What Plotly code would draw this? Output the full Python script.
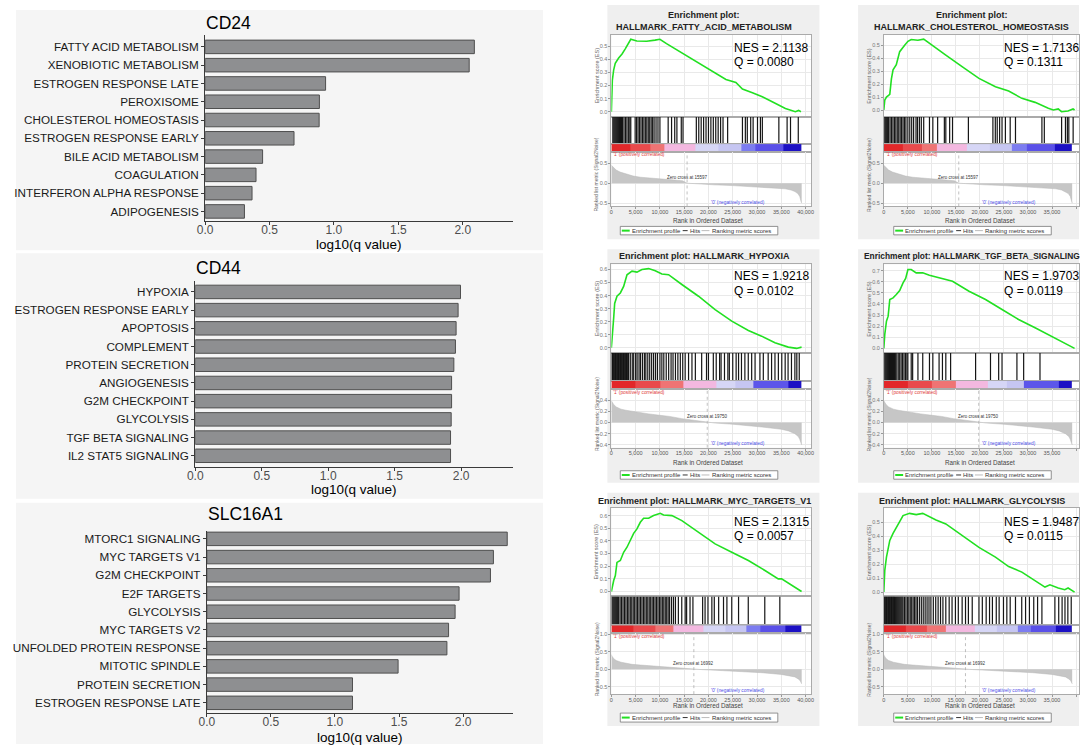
import plotly.graph_objects as go

W, H = 1081, 746
FONT = "Liberation Sans, Arial, sans-serif"

# ---------------- left bar charts: log10(q value) ----------------
cd24_terms = ["FATTY ACID METABOLISM", "XENOBIOTIC METABOLISM", "ESTROGEN RESPONSE LATE",
              "PEROXISOME", "CHOLESTEROL HOMEOSTASIS", "ESTROGEN RESPONSE EARLY",
              "BILE ACID METABOLISM", "COAGULATION", "INTERFERON ALPHA RESPONSE", "ADIPOGENESIS"]
cd24_vals = [2.09, 2.05, 0.935, 0.887, 0.885, 0.69, 0.446, 0.395, 0.364, 0.305]

cd44_terms = ["HYPOXIA", "ESTROGEN RESPONSE EARLY", "APOPTOSIS", "COMPLEMENT", "PROTEIN SECRETION",
              "ANGIOGENESIS", "G2M CHECKPOINT", "GLYCOLYSIS", "TGF BETA SIGNALING", "IL2 STAT5 SIGNALING"]
cd44_vals = [1.995, 1.977, 1.962, 1.957, 1.945, 1.928, 1.928, 1.925, 1.92, 1.92]

slc_terms = ["MTORC1 SIGNALING", "MYC TARGETS V1", "G2M CHECKPOINT", "E2F TARGETS", "GLYCOLYSIS",
             "MYC TARGETS V2", "UNFOLDED PROTEIN RESPONSE", "MITOTIC SPINDLE", "PROTEIN SECRETION",
             "ESTROGEN RESPONSE LATE"]
slc_vals = [2.345, 2.237, 2.214, 1.969, 1.938, 1.887, 1.874, 1.493, 1.137, 1.137]

bar_ticks = [0, 0.5, 1.0, 1.5, 2.0]
bar_tick_text = ["0.0", "0.5", "1.0", "1.5", "2.0"]

# ---------------- GSEA enrichment plots ----------------
rank_ticks = [0, 5000, 10000, 15000, 20000, 25000, 30000, 35000, 40000]
rank_tick_text = ["0", "5,000", "10,000", "15,000", "20,000", "25,000", "30,000", "35,000", "40,000"]

# A: FATTY_ACID_METABOLISM
es_rank_A = [0, 200, 480, 800, 1500, 2200, 2860, 3540, 4000, 5240, 7280, 8980, 10000, 11360, 14760,
             18160, 21560, 23600, 25650, 27000, 29050, 31090, 33130, 35850, 37900, 38570, 39050]
es_val_A = [0, 0.24, 0.32, 0.37, 0.41, 0.44, 0.48, 0.52, 0.553, 0.54, 0.538, 0.546, 0.553, 0.52, 0.444,
            0.368, 0.292, 0.246, 0.223, 0.173, 0.145, 0.114, 0.076, 0.025, 0.0, 0.01, 0.0]
hits_A = [300, 500, 700, 900, 1100, 1300, 1500, 1700, 1900, 2100, 2300, 2600, 2900, 3200, 3500, 3800,
          4000, 4900, 5200, 5500, 5800, 6100, 6400, 6700, 7000, 7300, 7600, 7900, 8200, 8500, 8800,
          9200, 9600, 10000, 11700, 12400, 13050, 13500, 14400, 14760, 17500, 18000, 18500, 19000,
          19500, 20000, 20500, 21000, 21500, 22000, 22500, 23000, 23950, 27000, 27600, 28000, 28700,
          29200, 30100, 30700, 31100, 34500, 36200, 36900, 38500]

# B: CHOLESTEROL_HOMEOSTASIS
es_rank_B = [0, 200, 550, 1240, 1580, 1920, 2600, 3300, 4330, 5020, 5700, 7080, 8300, 9480, 12900,
             16360, 19800, 23230, 25980, 28730, 31480, 34230, 35260, 36300, 36980, 38350, 39380, 39700]
es_val_B = [0, 0.077, 0.1, 0.12, 0.24, 0.31, 0.35, 0.45, 0.5, 0.53, 0.544, 0.538, 0.546, 0.513, 0.423,
            0.333, 0.244, 0.18, 0.146, 0.09, 0.059, 0.013, 0.0, 0.008, -0.013, -0.008, 0.008, 0.0]
hits_B = [200, 400, 600, 800, 1000, 1300, 1600, 1900, 2200, 2500, 2800, 3100, 3400, 3700, 4000, 4300,
          4600, 5000, 5400, 5800, 6200, 6700, 7000, 7400, 7800, 8300, 9500, 10200, 11200, 12600, 12900,
          13700, 14300, 17600, 22700, 23200, 23600, 24100, 24600, 25300, 26300, 27400, 32900, 33400,
          37000, 37800, 38200, 38500, 39400]

# C: HYPOXIA
es_rank_C = [0, 270, 480, 680, 1160, 1850, 2530, 3220, 4250, 5270, 6300, 7670, 9040, 10400, 11780,
             14520, 17950, 21370, 24800, 28220, 30960, 33700, 36440, 38150, 39180]
es_val_C = [0, 0.1, 0.23, 0.34, 0.395, 0.42, 0.47, 0.56, 0.587, 0.58, 0.6, 0.607, 0.59, 0.566, 0.56,
            0.485, 0.395, 0.293, 0.204, 0.133, 0.089, 0.038, 0.005, -0.005, 0.005]
hits_C = [100, 250, 400, 550, 700, 850, 1000, 1150, 1300, 1450, 1600, 1750, 1900, 2050, 2200, 2350,
          2500, 2650, 2800, 2950, 3100, 3250, 3400, 3550, 3900, 4300, 4600, 5000, 5300, 5700, 6000,
          6400, 6800, 7100, 7500, 7900, 8300, 8700, 9100, 9500, 10000, 10400, 10800, 11300, 11800,
          12300, 12700, 13200, 13700, 14200, 14700, 15200, 15900, 16600, 17300, 18600, 19600, 20000,
          21000, 21600, 22300, 22600, 23300, 24000, 24300, 25000, 25700, 26200, 26800, 27500, 28200,
          28900, 29600, 30600, 31300, 32300, 33000, 33700, 34400, 35100, 35800, 36400, 37100, 37800,
          38200, 38700]

# D: TGF_BETA_SIGNALING
es_rank_D = [0, 200, 550, 900, 1240, 1920, 2600, 3300, 4000, 4540, 5020, 5700, 6740, 8100, 9480,
             11550, 14300, 17730, 21170, 24600, 28040, 31480, 34900, 38350, 39700]
es_val_D = [0, 0.126, 0.245, 0.29, 0.44, 0.455, 0.485, 0.52, 0.59, 0.63, 0.71, 0.71, 0.68, 0.68, 0.658,
            0.634, 0.604, 0.515, 0.44, 0.35, 0.26, 0.185, 0.11, 0.036, 0.0]
hits_D = [200, 400, 600, 800, 1000, 1200, 1400, 1600, 1800, 2000, 2200, 2400, 2700, 3000, 3300, 3600,
          3900, 4200, 4500, 4800, 5000, 5700, 6000, 7100, 8100, 9500, 10200, 11500, 12200, 12900, 13900,
          19100, 22200, 23900, 24600, 27700, 29100, 32500]

# E: MYC_TARGETS_V1
es_rank_E = [0, 270, 480, 820, 1160, 1850, 2530, 3220, 3900, 4590, 5270, 5960, 6640, 7670, 8700, 10070,
             10750, 12470, 14520, 17950, 21370, 24800, 28220, 31640, 34380, 35070, 37120, 39180]
es_val_E = [0, 0.06, 0.087, 0.126, 0.23, 0.245, 0.31, 0.35, 0.4, 0.46, 0.495, 0.547, 0.579, 0.579, 0.6,
            0.618, 0.605, 0.6, 0.56, 0.468, 0.376, 0.31, 0.245, 0.166, 0.1, 0.1, 0.047, 0.0]
hits_E = [100, 300, 500, 700, 900, 1100, 1300, 1500, 1800, 2100, 2400, 2700, 3000, 3300, 3600, 3900,
          4200, 4500, 4800, 5100, 5400, 5700, 6000, 6300, 6600, 6900, 7200, 7500, 7800, 8100, 8400,
          8700, 9000, 9300, 9600, 9900, 10200, 10500, 10800, 11100, 11400, 11700, 12000, 12400, 12800,
          13200, 13800, 14500, 15200, 15500, 16200, 16800, 18800, 19300, 19900, 20700, 21200, 22100,
          23100, 23800, 24800, 26200, 28200, 31600, 34700]

# F: GLYCOLYSIS
es_rank_F = [0, 200, 550, 1240, 1920, 2600, 3300, 4000, 5360, 6740, 8100, 9480, 10860, 12900, 16360,
             19800, 23230, 25980, 28730, 31480, 33540, 34570, 36300, 37660, 38350, 39700]
es_val_F = [0, 0.155, 0.25, 0.37, 0.42, 0.464, 0.505, 0.548, 0.564, 0.555, 0.564, 0.54, 0.517, 0.488,
            0.405, 0.32, 0.25, 0.183, 0.143, 0.083, 0.036, 0.052, 0.029, 0.017, 0.029, 0.0]
hits_F = [100, 250, 400, 550, 700, 850, 1000, 1150, 1300, 1450, 1600, 1750, 1900, 2050, 2200, 2400,
          2600, 2800, 3000, 3200, 3400, 3600, 3800, 4000, 4300, 4600, 4900, 5200, 5500, 5800, 6100,
          6400, 6700, 7000, 7400, 7800, 8200, 8600, 9000, 9400, 9800, 10300, 10800, 11300, 11800,
          12300, 12900, 13600, 14200, 14900, 15500, 16300, 17000, 17600, 18400, 19800, 20500, 21300,
          22000, 22600, 23400, 24000, 24900, 25600, 26300, 27400, 28700, 29500, 30300, 31200, 32000,
          32900, 35600, 36400, 37100, 37700, 38300, 39000]

# ranked list metric (Signal2Noise), one list per row of plots
metric_rank_1 = [0, 100, 500, 1000, 1800, 3000, 4500, 6000, 8000, 10000, 11300, 13000, 14700, 15597,
                 17000, 18100, 21000, 25000, 28000, 31700, 34000, 35800, 37000, 37800, 38400, 38800,
                 39050, 39200]
metric_val_1 = [0.45, 0.44, 0.38, 0.33, 0.28, 0.23, 0.18, 0.15, 0.125, 0.11, 0.1, 0.08, 0.06, 0.0,
                -0.01, -0.02, -0.04, -0.06, -0.08, -0.1, -0.12, -0.14, -0.17, -0.21, -0.26, -0.33,
                -0.45, -0.5]
metric_rank_2 = [0, 100, 500, 1000, 2000, 3000, 4250, 6000, 7700, 10000, 12000, 14500, 17000, 19750,
                 21400, 25000, 28200, 31000, 35000, 36500, 37800, 38500, 38800, 39100, 39200]
metric_val_2 = [0.39, 0.37, 0.32, 0.28, 0.24, 0.22, 0.2, 0.17, 0.155, 0.13, 0.11, 0.07, 0.04, 0.0,
                -0.01, -0.03, -0.05, -0.08, -0.12, -0.15, -0.2, -0.25, -0.3, -0.38, -0.4]
metric_rank_3 = [0, 100, 500, 1000, 2000, 3000, 4250, 6000, 7700, 10000, 12000, 14500, 16992, 18500,
                 21400, 25000, 28200, 31000, 35000, 36500, 37800, 38500, 38900, 39200]
metric_val_3 = [0.42, 0.38, 0.3, 0.25, 0.2, 0.17, 0.14, 0.12, 0.1, 0.08, 0.06, 0.04, 0.0, -0.01, -0.03,
                -0.05, -0.075, -0.1, -0.15, -0.18, -0.22, -0.28, -0.33, -0.42]
zero_cross = [15597, 19750, 16992]

# colour bar of the ranked list (segment edges and colours)
seg_edges_1 = [0, 4000, 8000, 11000, 17300, 22000, 26700, 29700, 35500, 39200]
seg_colors_1 = ["#e2282a", "#e94a4c", "#ef7474", "#f3b8e0", "#d6d6f6", "#c6c6f2", "#7c7cf0", "#5a50e8",
                "#1c10c4"]
seg_edges_2 = [0, 5000, 10000, 14900, 21700, 25500, 29200, 36400, 39200]
seg_colors_2 = ["#e2282a", "#e94a4c", "#ef7474", "#f3b8e0", "#d6d6f6", "#c6c6f2", "#5c56ea", "#1c10c4"]
seg_edges_3 = [0, 4500, 9000, 12800, 19000, 23500, 27900, 30600, 35800, 39200]
seg_colors_3 = ["#e2282a", "#e94a4c", "#ef7474", "#f3b8e0", "#d6d6f6", "#c6c6f2", "#7c7cf0", "#5a50e8",
                "#1c10c4"]

nes_vals = ["2.1138", "1.7136", "1.9218", "1.9703", "2.1315", "1.9487"]
q_vals = ["0.0080", "0.1311", "0.0102", "0.0119", "0.0057", "0.0115"]
gsea_names = ["HALLMARK_FATTY_ACID_METABOLISM", "HALLMARK_CHOLESTEROL_HOMEOSTASIS", "HALLMARK_HYPOXIA",
              "HALLMARK_TGF_BETA_SIGNALING", "HALLMARK_MYC_TARGETS_V1", "HALLMARK_GLYCOLYSIS"]

# ---------------- helpers ----------------
layout = dict(width=W, height=H, margin=dict(l=0, r=0, t=0, b=0), paper_bgcolor="white",
              plot_bgcolor="rgba(0,0,0,0)", showlegend=False, font=dict(family=FONT))
annotations, shapes, traces = [], [], []
n_axes = [0]


def axes(x0, x1, y0, y1):
    n_axes[0] += 1
    n = n_axes[0]
    s = "" if n == 1 else str(n)
    xa = dict(domain=[x0 / W, min(x1 / W, 1)], anchor="y" + s, fixedrange=True, zeroline=False)
    ya = dict(domain=[1 - y1 / H, 1 - y0 / H], anchor="x" + s, fixedrange=True, zeroline=False)
    layout["xaxis" + s] = xa
    layout["yaxis" + s] = ya
    return "x" + s, "y" + s, xa, ya


def text(px, py, s, size, color="black", xanchor="center", bold=False, angle=0):
    annotations.append(dict(x=px / W, y=1 - py / H, xref="paper", yref="paper",
                            text=("<b>%s</b>" % s) if bold else s, showarrow=False,
                            xanchor=xanchor, yanchor="middle", textangle=angle, borderpad=0,
                            font=dict(size=size, color=color, family=FONT)))


def rect(x0, y0, x1, y1, fill, line=None, width=0.8, layer="below"):
    shapes.append(dict(type="rect", xref="paper", yref="paper", x0=x0 / W, x1=x1 / W,
                       y0=1 - y1 / H, y1=1 - y0 / H, fillcolor=fill, layer=layer,
                       line=dict(color=line or fill, width=width if line else 0)))


def hline(x0, x1, y, color, width):
    shapes.append(dict(type="line", xref="paper", yref="paper", x0=x0 / W, x1=x1 / W,
                       y0=1 - y / H, y1=1 - y / H, line=dict(color=color, width=width), layer="above"))


# ---------------- bar panels ----------------
def bar_panel(title, terms, vals, ax_x, unit, top, base, c_first, c_last, title_y, axtitle_y, bg):
    rect(*bg, "#f5f5f5")
    x1 = 510
    xr, yr, xa, ya = axes(ax_x, x1, top, base)
    sp = (c_last - c_first) / (len(terms) - 1)
    traces.append(go.Bar(x=vals, y=terms, orientation="h", xaxis=xr, yaxis=yr, width=0.74,
                         marker=dict(color="#8e8f91", line=dict(color="#4f4f4f", width=1)),
                         hoverinfo="skip"))
    xa.update(range=[0, (x1 - ax_x) / unit], tickvals=bar_ticks, ticktext=bar_tick_text, showline=True,
              linecolor="#3a3a3a", linewidth=1, ticks="outside", ticklen=3, tickcolor="#3a3a3a",
              tickfont=dict(size=12, color="#4d4d4d"), showgrid=False, ticklabelstandoff=-6)
    ya.update(type="category", categoryarray=terms,
              range=[len(terms) - 1 + (base - c_last) / sp, -(c_first - top) / sp],
              showline=True, linecolor="#3a3a3a", linewidth=1, ticks="outside", ticklen=3,
              tickcolor="#3a3a3a", tickfont=dict(size=11.7, color="#1a1a1a"), showgrid=False)
    text(ax_x, title_y, title, 17.5, xanchor="left")
    text((ax_x + x1) / 2, axtitle_y, "log10(q value)", 13.5)


bar_panel("CD24", cd24_terms, cd24_vals, 199, 130, 33, 220, 45, 210, 20.7, 243.5, (8, 8, 540, 249))
bar_panel("CD44", cd44_terms, cd44_vals, 189, 134.2, 280, 466.7, 290.7, 455, 266.7, 489, (8, 252, 540, 498))
bar_panel("SLC16A1", slc_terms, slc_vals, 200.7, 129.3, 530, 713.3, 538.3, 702.7, 513.3, 737,
          (8, 502, 540, 744))

# ---------------- GSEA panels ----------------
COLS = [dict(x0=609, x1=811, xmax=41224, bg=(605, 819), tcx=703, nes_x=731.7, leg_x=618),
        dict(x0=884, x1=1081, xmax=40619, bg=(858, 1081), tcx=973, nes_x=1004, leg_x=894)]
ROWS = [dict(es=(33, 115), hits=(115, 142.5), cb=(142.5, 150), met=(150, 205), title_y=[13, 25],
             xt_y=219, leg=(225, 233.5), bg=(3, 238), nes_y=46.5, q_y=60.5,
             met_range=[-0.5825, 0.7925], met_ticks=[-0.5, 0.0, 0.5]),
        dict(es=(263, 352), hits=(352, 380), cb=(380, 388.3), met=(388.3, 447), title_y=[255],
             xt_y=461.5, leg=(470, 478.5), bg=(248, 482), nes_y=275, q_y=289.3,
             met_range=[-0.452, 0.596], met_ticks=[-0.4, -0.2, 0.0, 0.2, 0.4]),
        dict(es=(507, 596), hits=(596, 625), cb=(625, 633), met=(633, 694), title_y=[500],
             xt_y=705.5, leg=(713, 722), bg=(492, 726), nes_y=521.5, q_y=535,
             met_range=[-0.714, 1.029], met_ticks=[-0.5, 0.0, 0.5, 1.0])]

metric_ranks = [metric_rank_1, metric_rank_2, metric_rank_3]
metric_vals = [metric_val_1, metric_val_2, metric_val_3]
seg_edges = [seg_edges_1, seg_edges_2, seg_edges_3]
seg_colors = [seg_colors_1, seg_colors_2, seg_colors_3]

GREEN = "#22e022"
GRID = "#e9e9e9"
FRAME = "#aaaaaa"


def gsea(idx, es_rank, es_val, hits, es_range, es_ticks):
    col, row = idx % 2, idx // 2
    C, R = COLS[col], ROWS[row]
    x0, x1, xmax = C["x0"], C["x1"], C["xmax"]
    rect(C["bg"][0], R["bg"][0], C["bg"][1], R["bg"][1], "#efefef")
    rect(x0, R["es"][0], x1, R["met"][1], "white")

    # title
    name = gsea_names[idx]
    if row == 0:
        text(C["tcx"], R["title_y"][0], "Enrichment plot:", 9, "#222", bold=True)
        text(C["tcx"], R["title_y"][1], name, 9, "#222", bold=True)
    else:
        full = "Enrichment plot: " + name
        size = 9 if len(full) < 42 else 8.4
        text(C["tcx"], R["title_y"][0], full, size, "#222", bold=True)

    # running enrichment score
    xr, yr, xa, ya = axes(x0, x1, *R["es"])
    traces.append(go.Scatter(x=es_rank, y=es_val, mode="lines", xaxis=xr, yaxis=yr,
                             line=dict(color=GREEN, width=1.6), hoverinfo="skip"))
    xa.update(range=[0, xmax], tickvals=rank_ticks, showticklabels=False, showgrid=True,
              gridcolor=GRID, gridwidth=0.6, showline=True, mirror=True, linecolor=FRAME, linewidth=0.8)
    ya.update(range=es_range, tickvals=es_ticks, ticktext=["%.1f" % t for t in es_ticks],
              tickfont=dict(size=5.5, color="#777"), ticks="outside", ticklen=2, tickcolor="#999",
              showgrid=True, gridcolor=GRID, gridwidth=0.6, showline=True, mirror=True,
              linecolor=FRAME, linewidth=0.8)
    text(x0 - 15, (R["es"][0] + R["es"][1]) / 2, "Enrichment score (ES)", 5.5, "#666", angle=-90)

    # hits
    xr, yr, xa, ya = axes(x0, x1, *R["hits"])
    hx, hy = [], []
    for h in hits:
        hx += [h, h, None]
        hy += [0, 1, None]
    traces.append(go.Scatter(x=hx, y=hy, mode="lines", xaxis=xr, yaxis=yr,
                             line=dict(color="#151515", width=1.2), hoverinfo="skip"))
    xa.update(range=[0, xmax], showticklabels=False, ticks="", showgrid=False, showline=True,
              mirror=True, linecolor=FRAME, linewidth=0.8)
    ya.update(range=[0, 1], showticklabels=False, ticks="", showgrid=False, showline=True,
              mirror=True, linecolor=FRAME, linewidth=0.8)

    # colour bar
    xr, yr, xa, ya = axes(x0, x1, *R["cb"])
    edges, cols = seg_edges[row], seg_colors[row]
    n = len(cols)
    traces.append(go.Heatmap(x=edges, y=[0, 1], z=[list(range(n))], zmin=0, zmax=n - 1,
                             colorscale=[[i / (n - 1), c] for i, c in enumerate(cols)],
                             showscale=False, xaxis=xr, yaxis=yr, hoverinfo="skip"))
    xa.update(range=[0, xmax], showticklabels=False, ticks="", showgrid=False, showline=True,
              mirror=True, linecolor=FRAME, linewidth=0.8)
    ya.update(range=[0, 1], showticklabels=False, ticks="", showgrid=False, showline=True,
              mirror=True, linecolor=FRAME, linewidth=0.8)

    # ranked list metric
    xr, yr, xa, ya = axes(x0, x1, *R["met"])
    mr = R["met_range"]
    zc = zero_cross[row]
    traces.append(go.Scatter(x=metric_ranks[row], y=metric_vals[row], mode="lines", fill="tozeroy",
                             fillcolor="#c6c6c6", line=dict(color="#b8b8b8", width=0.5),
                             xaxis=xr, yaxis=yr, hoverinfo="skip"))
    traces.append(go.Scatter(x=[zc, zc], y=mr, mode="lines", xaxis=xr, yaxis=yr,
                             line=dict(color="#b0b0b0", width=0.8, dash="dot"), hoverinfo="skip"))
    xa.update(range=[0, xmax], tickvals=rank_ticks, ticktext=rank_tick_text,
              tickfont=dict(size=5.5, color="#555"), ticks="outside", ticklen=2, tickcolor="#999",
              showgrid=True, gridcolor=GRID, gridwidth=0.6, showline=True, mirror=True,
              linecolor=FRAME, linewidth=0.8, ticklabelstandoff=-2)
    ya.update(range=mr, tickvals=R["met_ticks"], ticktext=["%.1f" % t for t in R["met_ticks"]],
              tickfont=dict(size=5.5, color="#777"), ticks="outside", ticklen=2, tickcolor="#999",
              showgrid=True, gridcolor=GRID, gridwidth=0.6, showline=True, mirror=True,
              linecolor=FRAME, linewidth=0.8)
    mt, mb = R["met"]
    zero_px = mb - (0 - mr[0]) / (mr[1] - mr[0]) * (mb - mt)
    zc_px = x0 + zc / xmax * (x1 - x0)
    text(zc_px, zero_px - 6, "Zero cross at %d" % zc, 4.5, "#333")
    text(x0 + 1, mt + 2.8, "'1' (positively correlated)", 4.8, "#e03a3a", xanchor="left")
    text(x0 + 26000 / xmax * (x1 - x0), mb - 4, "'0' (negatively correlated)", 4.8, "#4b4be6")
    text(x0 - 15, (mt + mb) / 2 - 4, "Ranked list metric (Signal2Noise)", 5, "#666", angle=-90)
    text(x0 + 20000 / xmax * (x1 - x0), R["xt_y"], "Rank in Ordered Dataset", 6.3, "#444")

    # NES / Q
    text(C["nes_x"], R["nes_y"], "NES = " + nes_vals[idx], 12, xanchor="left")
    text(C["nes_x"], R["q_y"], "Q = " + q_vals[idx], 12, xanchor="left")

    # legend box
    lx = C["leg_x"]
    ly0, ly1 = R["leg"]
    ym = (ly0 + ly1) / 2
    rect(lx, ly0, lx + 159, ly1, "white", "#777", 0.8)
    hline(lx + 1.5, lx + 9.5, ym, GREEN, 2)
    text(lx + 10.5, ym, "Enrichment profile", 6, "#333", xanchor="left")
    hline(lx + 63, lx + 68, ym, "#333", 1)
    text(lx + 69, ym, "Hits", 6, "#333", xanchor="left")
    hline(lx + 82, lx + 90, ym, "#bbbbbb", 1)
    text(lx + 91.5, ym, "Ranking metric scores", 6, "#333", xanchor="left")


gsea(0, es_rank_A, es_val_A, hits_A, [-0.038, 0.586], [0.0, 0.1, 0.2, 0.3, 0.4, 0.5])
gsea(1, es_rank_B, es_val_B, hits_B, [-0.0515, 0.579], [0.0, 0.1, 0.2, 0.3, 0.4, 0.5])
gsea(2, es_rank_C, es_val_C, hits_C, [-0.0406, 0.640], [0.0, 0.1, 0.2, 0.3, 0.4, 0.5, 0.6])
gsea(3, es_rank_D, es_val_D, hits_D, [-0.042, 0.757], [0.0, 0.1, 0.2, 0.3, 0.4, 0.5, 0.6, 0.7])
gsea(4, es_rank_E, es_val_E, hits_E, [-0.039, 0.663], [0.0, 0.1, 0.2, 0.3, 0.4, 0.5, 0.6])
gsea(5, es_rank_F, es_val_F, hits_F, [-0.031, 0.605], [0.0, 0.1, 0.2, 0.3, 0.4, 0.5])

layout["annotations"] = annotations
layout["shapes"] = shapes
fig = go.Figure(data=traces)
fig.update_layout(**layout)
fig.write_html("out.html", config={"displayModeBar": False},
               post_script="document.body.style.margin='0';")
